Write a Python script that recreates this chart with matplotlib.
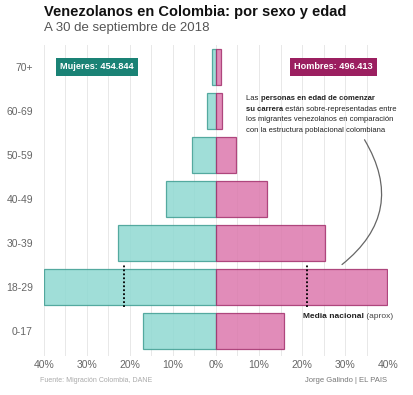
import matplotlib.pyplot as plt
from matplotlib.patches import FancyArrowPatch

plt.rcParams['font.family'] = ['Liberation Sans', 'DejaVu Sans']

grupos = ['0-17', '18-29', '30-39', '40-49', '50-59', '60-69', '70+']
mujeres = [17.0, 40.0, 22.8, 11.6, 5.6, 2.0, 1.0]
hombres = [15.8, 39.8, 25.3, 11.9, 4.6, 1.5, 1.2]
media_nacional = (-21.5, 21.2)
total_mujeres = '454.844'
total_hombres = '496.413'

fig = plt.figure(figsize=(4.14, 3.95), dpi=100)
ax = fig.add_axes([44 / 414, 39 / 395, 344 / 414, 311 / 395])

y = range(len(grupos))
ax.barh(y, [-m for m in mujeres], height=0.8, color='#8fd9d2', alpha=0.85,
        edgecolor='#3f9d92', linewidth=0.9, zorder=2)
ax.barh(y, hombres, height=0.8, color='#dc78ad', alpha=0.85,
        edgecolor='#a3306c', linewidth=0.9, zorder=2)

# media nacional 18-29
for xm in media_nacional:
    ax.plot([xm, xm], [0.55, 1.52], color='black', linestyle=(0, (1, 1.2)),
            linewidth=1.3, zorder=3)
t = ax.text(20.2, 0.25, 'Media nacional', fontsize=6, fontweight='bold',
            ha='left', va='bottom', color='#222222')
ax.annotate(' (aprox)', xy=(1, 0), xycoords=t, fontsize=6, ha='left',
            va='bottom', color='#444444')

# totales
ax.text(-36.3, 6, 'Mujeres: ' + total_mujeres, fontsize=6.6, fontweight='bold',
        color='white', ha='left', va='center',
        bbox=dict(boxstyle='square,pad=0.45', fc='#1a8275', ec='none'))
ax.text(36.4, 6, 'Hombres: ' + total_hombres, fontsize=6.6, fontweight='bold',
        color='white', ha='right', va='center',
        bbox=dict(boxstyle='square,pad=0.45', fc='#9b1f60', ec='none'))

# anotacion
fs = 5.5
col = '#222222'
x0 = 7.0
lineas_y = [5.2, 4.96, 4.72, 4.48]
a = ax.text(x0, lineas_y[0], 'Las ', fontsize=fs, color=col, va='bottom')
ax.annotate('personas en edad de comenzar', xy=(1, 0), xycoords=a,
            fontsize=fs, fontweight='bold', color=col, va='bottom')
b = ax.text(x0, lineas_y[1], 'su carrera', fontsize=fs, fontweight='bold',
            color=col, va='bottom')
ax.annotate(' están sobre-representadas entre', xy=(1, 0), xycoords=b,
            fontsize=fs, color=col, va='bottom')
ax.text(x0, lineas_y[2], 'los migrantes venezolanos en comparación',
        fontsize=fs, color=col, va='bottom')
ax.text(x0, lineas_y[3], 'con la estructura poblacional colombiana',
        fontsize=fs, color=col, va='bottom')

arc = FancyArrowPatch((34.2, 4.4), (28.8, 1.47), arrowstyle='-',
                      connectionstyle='arc3,rad=-0.45', color='#666666',
                      linewidth=0.9, zorder=3)
ax.add_patch(arc)

ax.set_xlim(-40, 40)
ax.set_ylim(-0.57, 6.5)
ax.set_xticks(range(-40, 41, 5))
ax.set_xticklabels([f'{abs(v)}%' if v % 10 == 0 else '' for v in range(-40, 41, 5)])
ax.set_yticks(list(y))
ax.set_yticklabels(grupos)
ax.grid(axis='x', color='#e8e8e8', linewidth=0.7, zorder=0)
ax.set_axisbelow(True)
for s in ax.spines.values():
    s.set_visible(False)
ax.tick_params(length=0, labelsize=7.5, labelcolor='#666666')
ax.tick_params(axis='x', pad=3)
ax.tick_params(axis='y', pad=8)

fig.text(44 / 414, 1 - 12 / 395, 'Venezolanos en Colombia: por sexo y edad',
         fontsize=10.5, fontweight='bold', color='#111111', va='center')
fig.text(44 / 414, 1 - 28 / 395, 'A 30 de septiembre de 2018',
         fontsize=9.5, color='#555555', va='center')
fig.text(40 / 414, 1 - 381 / 395, 'Fuente: Migración Colombia, DANE',
         fontsize=5, color='#aaaaaa', va='center')
fig.text(387 / 414, 1 - 381 / 395, 'Jorge Galindo | EL PAIS',
         fontsize=5.5, color='#777777', va='center', ha='right')

fig.savefig('out.png', dpi=100)
